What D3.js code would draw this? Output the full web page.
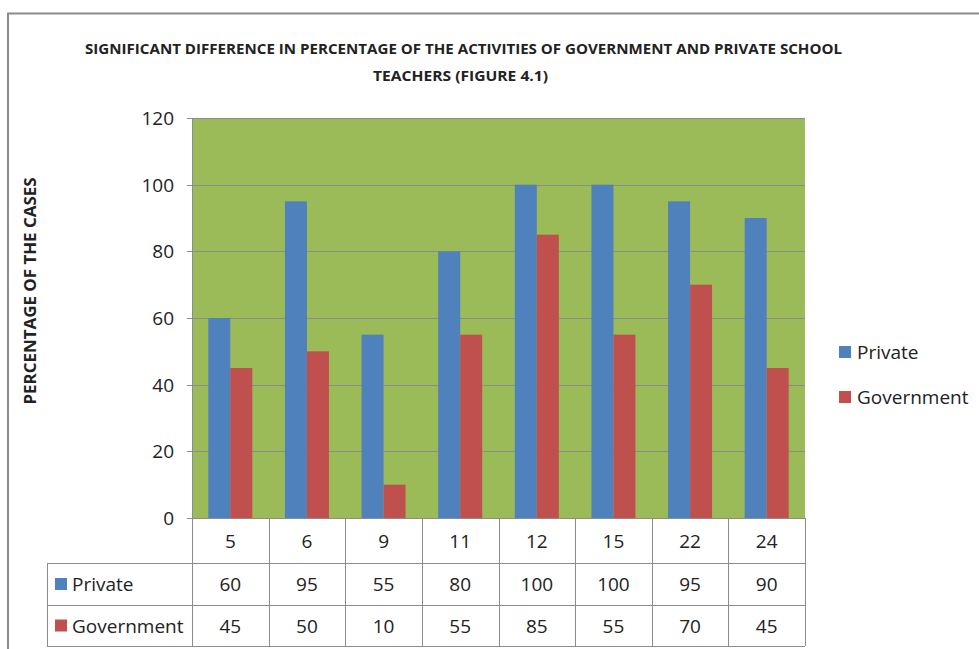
<!DOCTYPE html>
<html>
<head>
<meta charset="utf-8">
<script src="https://cdn.jsdelivr.net/npm/d3@7"></script>
<style>
body { margin: 0; background: #fff; }
svg { display: block; }
text { font-family: "Open Sans", "Noto Sans", sans-serif; fill: #222; }
</style>
</head>
<body>
<svg id="chart" width="979" height="649"></svg>
<script>
// chart data
var categories = ["5", "6", "9", "11", "12", "15", "22", "24"];
var private_values = [60, 95, 55, 80, 100, 100, 95, 90];
var government_values = [45, 50, 10, 55, 85, 55, 70, 45];
var series_names = ["Private", "Government"];
var series_colors = ["#4F81BD", "#C0504D"];
var y_ticks = [0, 20, 40, 60, 80, 100, 120];

var svg = d3.select("#chart");

// outer frame
svg.append("rect")
    .attr("x", 8).attr("y", 13.5)
    .attr("width", 990).attr("height", 650)
    .attr("fill", "none")
    .attr("stroke", "#8c8c8c")
    .attr("stroke-width", 2);

var plot_left = 192, plot_right = 805, plot_top = 118, plot_bottom = 518;

var x = d3.scaleBand()
    .domain(categories)
    .range([plot_left, plot_right]);

var y = d3.scaleLinear()
    .domain([0, 120])
    .range([plot_bottom, plot_top]);

// green plot area
svg.append("rect")
    .attr("x", plot_left).attr("y", plot_top)
    .attr("width", plot_right - plot_left)
    .attr("height", plot_bottom - plot_top)
    .attr("fill", "#9BBB59");

// gridlines
svg.append("g")
    .selectAll("line")
    .data(y_ticks)
    .enter().append("line")
    .attr("x1", plot_left - 5).attr("x2", plot_right)
    .attr("y1", function(d) { return Math.round(y(d)) + 0.5; })
    .attr("y2", function(d) { return Math.round(y(d)) + 0.5; })
    .attr("stroke", "#8c8c8c")
    .attr("stroke-width", 1);

// y axis line
svg.append("line")
    .attr("x1", plot_left + 0.5).attr("x2", plot_left + 0.5)
    .attr("y1", plot_top).attr("y2", plot_bottom)
    .attr("stroke", "#8c8c8c");

// y axis labels
svg.append("g")
    .selectAll("text")
    .data(y_ticks)
    .enter().append("text")
    .attr("x", 174)
    .attr("y", function(d) { return y(d) + 7; })
    .attr("text-anchor", "end")
    .style("font-size", "19px")
    .text(function(d) { return d; });

// bars
var bar_w = 22;
var series_data = [private_values, government_values];
series_data.forEach(function(values, s)
{
    svg.append("g")
        .selectAll("rect")
        .data(values)
        .enter().append("rect")
        .attr("x", function(d, i) { return x(categories[i]) + x.bandwidth() / 2 - bar_w + s * bar_w; })
        .attr("y", function(d) { return y(d); })
        .attr("width", bar_w)
        .attr("height", function(d) { return y(0) - y(d); })
        .attr("fill", series_colors[s]);
});

// data table
var table_left = 47;
var row_edges = [518, 563, 605, 646];
var grid_color = "#8c8c8c";
var tg = svg.append("g");

// horizontal lines
tg.selectAll("line.h")
    .data(row_edges)
    .enter().append("line")
    .attr("class", "h")
    .attr("x1", function(d, i) { return i < 1 ? plot_left : table_left; })
    .attr("x2", plot_right)
    .attr("y1", function(d) { return d + 0.5; })
    .attr("y2", function(d) { return d + 0.5; })
    .attr("stroke", grid_color);

// vertical lines
var col_edges = categories.map(function(c) { return x(c); }).concat([plot_right]);
tg.selectAll("line.v")
    .data(col_edges)
    .enter().append("line")
    .attr("class", "v")
    .attr("x1", function(d) { return Math.round(d) + 0.5; })
    .attr("x2", function(d) { return Math.round(d) + 0.5; })
    .attr("y1", row_edges[0]).attr("y2", row_edges[3])
    .attr("stroke", grid_color);
tg.append("line")
    .attr("x1", table_left + 0.5).attr("x2", table_left + 0.5)
    .attr("y1", row_edges[1]).attr("y2", row_edges[3])
    .attr("stroke", grid_color);

// category header
tg.selectAll("text.cat")
    .data(categories)
    .enter().append("text")
    .attr("x", function(d) { return x(d) + x.bandwidth() / 2; })
    .attr("y", 548)
    .attr("text-anchor", "middle")
    .style("font-size", "19px")
    .text(function(d) { return d; });

// value rows
series_data.forEach(function(values, s)
{
    var mid = (row_edges[s + 1] + row_edges[s + 2]) / 2;
    tg.selectAll("text.val" + s)
        .data(values)
        .enter().append("text")
        .attr("x", function(d, i) { return x(categories[i]) + x.bandwidth() / 2; })
        .attr("y", mid + 7)
        .attr("text-anchor", "middle")
        .style("font-size", "19px")
        .text(function(d) { return d; });

    tg.append("rect")
        .attr("x", 55).attr("y", mid - 6)
        .attr("width", 12).attr("height", 12)
        .attr("fill", series_colors[s]);
    tg.append("text")
        .attr("x", 72).attr("y", mid + 7)
        .style("font-size", "19px")
        .text(series_names[s]);
});

// legend
var legend = svg.append("g");
series_names.forEach(function(name, s)
{
    var ly = 352 + s * 45;
    legend.append("rect")
        .attr("x", 839).attr("y", ly - 6)
        .attr("width", 12).attr("height", 12)
        .attr("fill", series_colors[s]);
    legend.append("text")
        .attr("x", 857).attr("y", ly + 7)
        .style("font-size", "19px")
        .text(name);
});

// title
svg.append("text")
    .attr("x", 85).attr("y", 54)
    .attr("textLength", 757)
    .attr("lengthAdjust", "spacingAndGlyphs")
    .style("font-size", "15px")
    .style("font-weight", "bold")
    .text("SIGNIFICANT DIFFERENCE IN PERCENTAGE OF THE ACTIVITIES OF GOVERNMENT AND PRIVATE SCHOOL");
svg.append("text")
    .attr("x", 373).attr("y", 81)
    .attr("textLength", 175)
    .attr("lengthAdjust", "spacingAndGlyphs")
    .style("font-size", "15px")
    .style("font-weight", "bold")
    .text("TEACHERS (FIGURE 4.1)");

// y axis title
svg.append("text")
    .attr("transform", "translate(36,291) rotate(-90)")
    .attr("text-anchor", "middle")
    .attr("textLength", 227)
    .attr("lengthAdjust", "spacingAndGlyphs")
    .style("font-size", "16px")
    .style("font-weight", "bold")
    .text("PERCENTAGE OF THE CASES");
</script>
</body>
</html>
